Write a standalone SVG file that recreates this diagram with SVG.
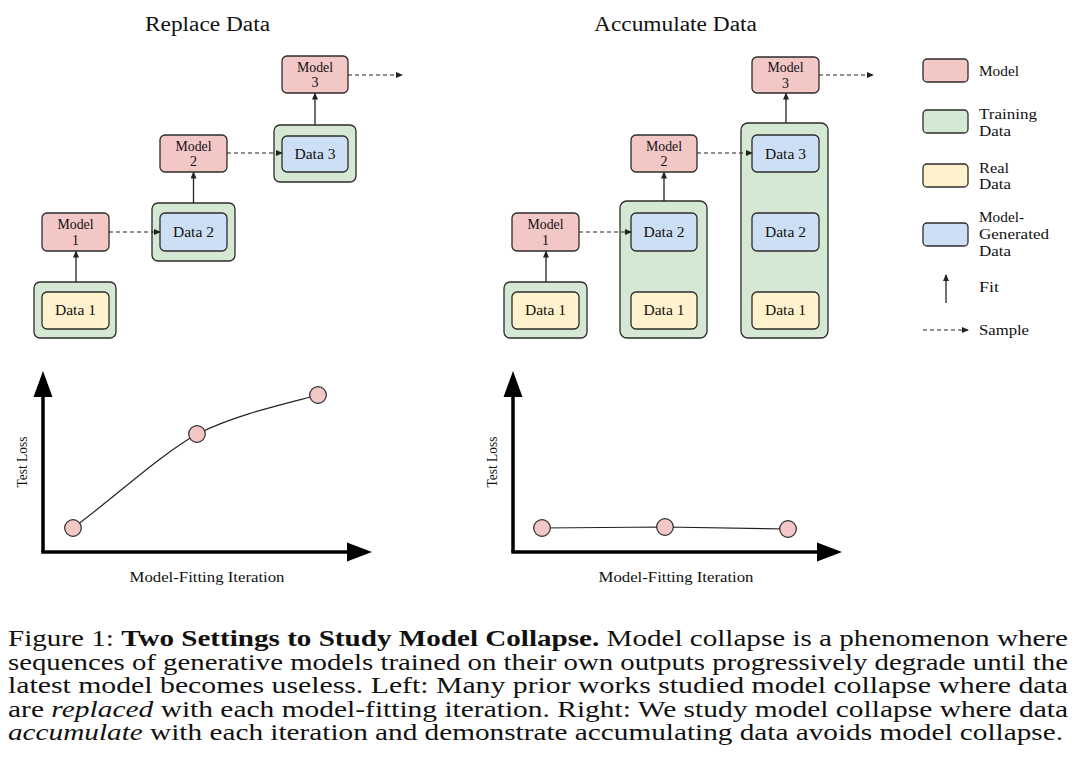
<svg xmlns="http://www.w3.org/2000/svg" width="1080" height="779" viewBox="0 0 1080 779">
<style>
.model{fill:#f4c7c7;stroke:#2b2b2b;stroke-width:1.3}
.train{fill:#d5e8d4;stroke:#2b2b2b;stroke-width:1.3}
.real{fill:#fff2cc;stroke:#2b2b2b;stroke-width:1.3}
.gen{fill:#cddff4;stroke:#2b2b2b;stroke-width:1.3}
.lbl{font-family:"Liberation Serif",serif;font-size:14px;fill:#111;text-anchor:middle}
.leg{font-family:"Liberation Serif",serif;font-size:14.5px;fill:#111}
.title{font-family:"Liberation Serif",serif;font-size:20px;fill:#111;text-anchor:middle}
.fit{stroke:#222;stroke-width:1.3;fill:none}
.smp{stroke:#222;stroke-width:1.2;fill:none;stroke-dasharray:4 3}
.axis{stroke:#000;stroke-width:3.5;fill:none}
.curve{stroke:#222;stroke-width:1.2;fill:none}
.dot{fill:#f4c7c7;stroke:#2b2b2b;stroke-width:1.2}
.cap{font-family:"Liberation Serif",serif;font-size:23px;fill:#111}
</style>
<defs>
<marker id="ah" markerUnits="userSpaceOnUse" markerWidth="7" markerHeight="6" refX="6" refY="3" orient="auto">
<path d="M0,0 L7,3 L0,6 z" fill="#222"/>
</marker>
</defs>
<rect width="1080" height="779" fill="#fff"/>

<text class="title" x="207.5" y="31" textLength="125" lengthAdjust="spacingAndGlyphs">Replace Data</text>
<text class="title" x="675.5" y="31" textLength="163" lengthAdjust="spacingAndGlyphs">Accumulate Data</text>

<!-- Left: replace -->
<g id="L-data1"><rect class="train" x="34" y="282" width="82" height="56" rx="6"/><rect class="real" x="42" y="292" width="67" height="37" rx="5"/><text class="lbl" x="75.5" y="315" textLength="41" lengthAdjust="spacingAndGlyphs">Data 1</text></g>
<g id="L-model1"><rect class="model" x="42" y="213" width="67" height="38" rx="5"/><text class="lbl" x="75.5" y="229" textLength="36" lengthAdjust="spacingAndGlyphs">Model</text><text class="lbl" x="75.5" y="244.5">1</text></g>
<g id="L-data2"><rect class="train" x="152" y="203" width="83" height="58" rx="6"/><rect class="gen" x="160" y="213" width="67" height="38" rx="5"/><text class="lbl" x="193.5" y="237" textLength="41" lengthAdjust="spacingAndGlyphs">Data 2</text></g>
<g id="L-model2"><rect class="model" x="160" y="135" width="67" height="37" rx="5"/><text class="lbl" x="193.5" y="150.5" textLength="36" lengthAdjust="spacingAndGlyphs">Model</text><text class="lbl" x="193.5" y="166">2</text></g>
<g id="L-data3"><rect class="train" x="274" y="125" width="82" height="57" rx="6"/><rect class="gen" x="282" y="136" width="66" height="36" rx="5"/><text class="lbl" x="315" y="158.5" textLength="41" lengthAdjust="spacingAndGlyphs">Data 3</text></g>
<g id="L-model3"><rect class="model" x="282" y="56" width="66" height="37" rx="5"/><text class="lbl" x="315" y="71.5" textLength="36" lengthAdjust="spacingAndGlyphs">Model</text><text class="lbl" x="315" y="87">3</text></g>

<!-- Right: accumulate -->
<g id="R-col1"><rect class="train" x="504" y="282" width="83" height="56" rx="6"/><rect class="real" x="512" y="292" width="67" height="37" rx="5"/><text class="lbl" x="545.5" y="315" textLength="41" lengthAdjust="spacingAndGlyphs">Data 1</text></g>
<g id="R-model1"><rect class="model" x="512" y="213" width="67" height="38" rx="5"/><text class="lbl" x="545.5" y="229" textLength="36" lengthAdjust="spacingAndGlyphs">Model</text><text class="lbl" x="545.5" y="244.5">1</text></g>
<g id="R-col2"><rect class="train" x="620" y="201" width="87" height="137" rx="7"/><rect class="gen" x="631" y="213" width="66" height="38" rx="5"/><text class="lbl" x="664" y="237" textLength="41" lengthAdjust="spacingAndGlyphs">Data 2</text><rect class="real" x="631" y="292" width="66" height="37" rx="5"/><text class="lbl" x="664" y="315" textLength="41" lengthAdjust="spacingAndGlyphs">Data 1</text></g>
<g id="R-model2"><rect class="model" x="631" y="135" width="66" height="37" rx="5"/><text class="lbl" x="664" y="150.5" textLength="36" lengthAdjust="spacingAndGlyphs">Model</text><text class="lbl" x="664" y="166">2</text></g>
<g id="R-col3"><rect class="train" x="741" y="123" width="87" height="215" rx="7"/><rect class="gen" x="752" y="135" width="67" height="37" rx="5"/><text class="lbl" x="785.5" y="158.5" textLength="41" lengthAdjust="spacingAndGlyphs">Data 3</text><rect class="gen" x="752" y="213" width="67" height="38" rx="5"/><text class="lbl" x="785.5" y="237" textLength="41" lengthAdjust="spacingAndGlyphs">Data 2</text><rect class="real" x="752" y="292" width="67" height="37" rx="5"/><text class="lbl" x="785.5" y="315" textLength="41" lengthAdjust="spacingAndGlyphs">Data 1</text></g>
<g id="R-model3"><rect class="model" x="752" y="57" width="67" height="36" rx="5"/><text class="lbl" x="785.5" y="72" textLength="36" lengthAdjust="spacingAndGlyphs">Model</text><text class="lbl" x="785.5" y="87.5">3</text></g>

<g id="connectors">
<line class="fit" x1="76" y1="282" x2="76" y2="251.5" marker-end="url(#ah)"/>
<line class="smp" x1="109" y1="232" x2="160" y2="232" marker-end="url(#ah)"/>
<line class="fit" x1="193.5" y1="203" x2="193.5" y2="172.5" marker-end="url(#ah)"/>
<line class="smp" x1="227" y1="153" x2="282" y2="153" marker-end="url(#ah)"/>
<line class="fit" x1="315" y1="125" x2="315" y2="93.5" marker-end="url(#ah)"/>
<line class="smp" x1="348" y1="75" x2="402" y2="75" marker-end="url(#ah)"/>
<line class="fit" x1="546" y1="282" x2="546" y2="251.5" marker-end="url(#ah)"/>
<line class="smp" x1="579" y1="232" x2="631" y2="232" marker-end="url(#ah)"/>
<line class="fit" x1="664" y1="201" x2="664" y2="172.5" marker-end="url(#ah)"/>
<line class="smp" x1="697" y1="153" x2="752" y2="153" marker-end="url(#ah)"/>
<line class="fit" x1="786" y1="123" x2="786" y2="93.5" marker-end="url(#ah)"/>
<line class="smp" x1="819" y1="75" x2="873" y2="75" marker-end="url(#ah)"/>
</g>

<!-- Legend -->
<g id="legend">
<rect class="model" x="923" y="59" width="45" height="23" rx="4"/><text class="leg" x="979" y="76" textLength="40" lengthAdjust="spacingAndGlyphs">Model</text>
<rect class="train" x="923" y="110" width="45" height="23" rx="4"/><text class="leg" x="979" y="119" textLength="58" lengthAdjust="spacingAndGlyphs">Training</text><text class="leg" x="979" y="135.5" textLength="32" lengthAdjust="spacingAndGlyphs">Data</text>
<rect class="real" x="923" y="164" width="45" height="23" rx="4"/><text class="leg" x="979" y="172.5" textLength="30" lengthAdjust="spacingAndGlyphs">Real</text><text class="leg" x="979" y="189" textLength="32" lengthAdjust="spacingAndGlyphs">Data</text>
<rect class="gen" x="923" y="223" width="45" height="23" rx="4"/><text class="leg" x="979" y="222" textLength="45" lengthAdjust="spacingAndGlyphs">Model-</text><text class="leg" x="979" y="239" textLength="70" lengthAdjust="spacingAndGlyphs">Generated</text><text class="leg" x="979" y="256" textLength="32" lengthAdjust="spacingAndGlyphs">Data</text>
<line class="fit" x1="946" y1="303" x2="946" y2="275" marker-end="url(#ah)"/><text class="leg" x="979" y="292" textLength="20" lengthAdjust="spacingAndGlyphs">Fit</text>
<line class="smp" x1="923" y1="330" x2="968" y2="330" marker-end="url(#ah)"/><text class="leg" x="979" y="335" textLength="50" lengthAdjust="spacingAndGlyphs">Sample</text>
</g>

<!-- Left plot -->
<g id="plot-left">
<line class="axis" x1="43" y1="552" x2="43" y2="394"/>
<path d="M33.5,397 L52.5,397 L43,371 z" fill="#000"/>
<line class="axis" x1="41.25" y1="552" x2="349" y2="552"/>
<path d="M347,542.5 L347,561.5 L372,552 z" fill="#000"/>
<path class="curve" d="M73,528 C115,497 160,455 197,434 C235,415 280,405 318,395"/>
<circle class="dot" cx="73" cy="528" r="8.3"/>
<circle class="dot" cx="197" cy="434" r="8.3"/>
<circle class="dot" cx="318" cy="395" r="8.3"/>
<text class="lbl" transform="translate(27,462) rotate(-90)" textLength="51" lengthAdjust="spacingAndGlyphs">Test Loss</text>
<text class="lbl" x="207" y="582" textLength="155" lengthAdjust="spacingAndGlyphs">Model-Fitting Iteration</text>
</g>

<!-- Right plot -->
<g id="plot-right">
<line class="axis" x1="513" y1="552" x2="513" y2="394"/>
<path d="M503.5,397 L522.5,397 L513,371 z" fill="#000"/>
<line class="axis" x1="511.25" y1="552" x2="819" y2="552"/>
<path d="M817,542.5 L817,561.5 L842,552 z" fill="#000"/>
<path class="curve" d="M542,528 L665,527 L788,529"/>
<circle class="dot" cx="542" cy="528" r="8.3"/>
<circle class="dot" cx="665" cy="527" r="8.3"/>
<circle class="dot" cx="788" cy="529" r="8.3"/>
<text class="lbl" transform="translate(497,462) rotate(-90)" textLength="51" lengthAdjust="spacingAndGlyphs">Test Loss</text>
<text class="lbl" x="676" y="582" textLength="155" lengthAdjust="spacingAndGlyphs">Model-Fitting Iteration</text>
</g>

<!-- Caption -->
<g id="caption">
<text class="cap" x="8" y="646" textLength="1060" lengthAdjust="spacingAndGlyphs">Figure 1: <tspan font-weight="bold">Two Settings to Study Model Collapse.</tspan> Model collapse is a phenomenon where</text>
<text class="cap" x="8" y="669.5" textLength="1060" lengthAdjust="spacingAndGlyphs">sequences of generative models trained on their own outputs progressively degrade until the</text>
<text class="cap" x="8" y="693" textLength="1060" lengthAdjust="spacingAndGlyphs">latest model becomes useless. Left: Many prior works studied model collapse where data</text>
<text class="cap" x="8" y="716.5" textLength="1060" lengthAdjust="spacingAndGlyphs">are <tspan font-style="italic">replaced</tspan> with each model-fitting iteration. Right: We study model collapse where data</text>
<text class="cap" x="8" y="740" textLength="1055" lengthAdjust="spacingAndGlyphs"><tspan font-style="italic">accumulate</tspan> with each iteration and demonstrate accumulating data avoids model collapse.</text>
</g>
</svg>
